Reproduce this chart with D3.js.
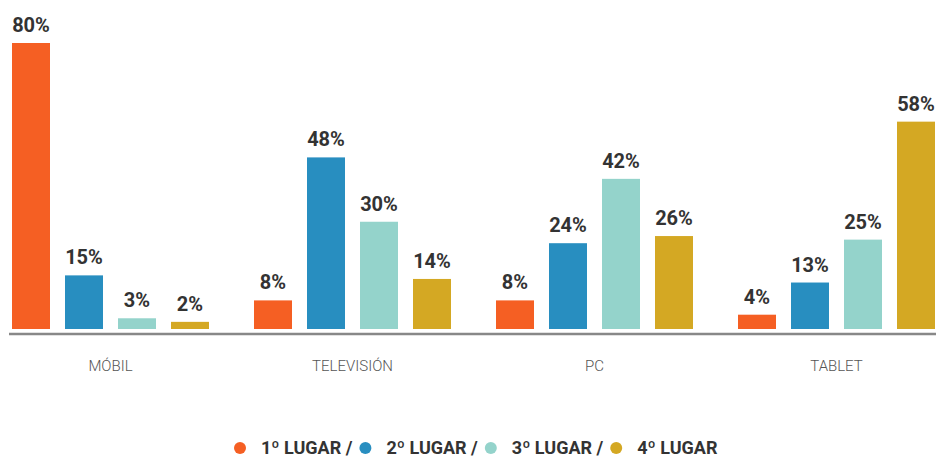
<!DOCTYPE html>
<html>
<head>
<meta charset="utf-8">
<script src="https://cdn.jsdelivr.net/npm/d3@7"></script>
<style>
  body { margin: 0; background: #fff; }
  svg text { font-family: "Roboto", "Liberation Sans Narrow", sans-serif; }
</style>
</head>
<body>
<div class="canvas"></div>
<script>
const categories = ["MÓBIL", "TELEVISIÓN", "PC", "TABLET"]
const series = ["1º LUGAR", "2º LUGAR", "3º LUGAR", "4º LUGAR"]
const lugar1 = [80, 8, 8, 4]
const lugar2 = [15, 48, 24, 13]
const lugar3 = [3, 30, 42, 25]
const lugar4 = [2, 14, 26, 58]
const values = [lugar1, lugar2, lugar3, lugar4]
const color = ["#f55f23", "#288ec0", "#94d3cb", "#d4a823"]

const width = 936, height = 457
const baseline = 329

const svg = d3.select(".canvas").append("svg").attr("width", width).attr("height", height)

// scales
const x0 = d3.scaleBand().domain(categories).range([-10.5, 957.5]).padding(0)
const x1 = d3.scaleBand().domain(series).range([22.5, 219.5]).paddingInner(0.283).paddingOuter(0)
const y = d3.scaleLinear().domain([0, 80]).range([baseline, baseline - 286])

const rows = []
categories.forEach((c, ci) => {
    series.forEach((s, si) => rows.push({cat: c, ser: s, si: si, v: values[si][ci]}))
})

const groups = svg.selectAll("g.group").data(categories).enter().append("g")
    .attr("transform", d => `translate(${x0(d)},0)`)

groups.selectAll("rect")
    .data(c => rows.filter(r => r.cat === c))
    .enter().append("rect")
    .attr("x", d => x1(d.ser))
    .attr("width", x1.bandwidth())
    .attr("y", d => y(d.v))
    .attr("height", d => baseline - y(d.v))
    .attr("fill", d => color[d.si])

groups.selectAll("text.val")
    .data(c => rows.filter(r => r.cat === c))
    .enter().append("text")
    .attr("x", d => x1(d.ser) + x1.bandwidth() / 2)
    .attr("y", d => y(d.v) - 11)
    .attr("text-anchor", "middle")
    .attr("font-size", 20)
    .attr("font-weight", "bold")
    .attr("fill", "#333")
    .text(d => d.v + "%")

// axis
const xAxis = d3.axisBottom(x0).tickSize(0).tickPadding(26)
const axisG = svg.append("g").attr("transform", `translate(0,${baseline + 5})`).call(xAxis)
axisG.select(".domain").remove()
axisG.append("line").attr("x1", 9).attr("x2", width).attr("stroke", "#888").attr("stroke-width", 2.5)
axisG.selectAll(".tick text")
    .attr("font-size", 15)
    .attr("font-weight", 300)
    .attr("fill", "#555")
    .attr("font-family", "Roboto, sans-serif")

// legend
const legend = svg.append("g").attr("transform", "translate(240,454)")
let lx = 0
series.forEach((s, i) => {
    const item = legend.append("g").attr("transform", `translate(${lx},0)`)
    item.append("circle").attr("cx", 0).attr("cy", -6).attr("r", 6).attr("fill", color[i])
    const t = item.append("text").attr("x", 21).attr("font-size", 18).attr("font-weight", "bold")
        .attr("fill", "#333").text(s + (i < series.length - 1 ? " /" : ""))
    lx += 21 + t.node().getComputedTextLength() + 13
})
</script>
</body>
</html>
